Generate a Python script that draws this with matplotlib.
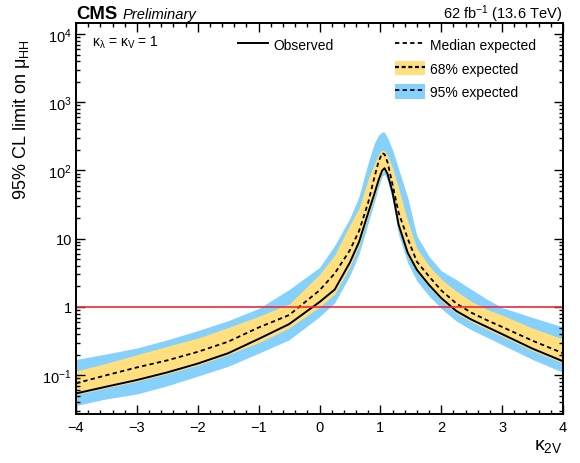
import matplotlib
matplotlib.use("Agg")
import matplotlib.pyplot as plt
from matplotlib.lines import Line2D
from matplotlib.patches import Patch
from matplotlib.ticker import FixedLocator, FixedFormatter, MultipleLocator, NullFormatter
import numpy as np

plt.rcParams['font.family'] = ['Liberation Sans', 'DejaVu Sans']
plt.rcParams['mathtext.fontset'] = 'custom'
plt.rcParams['mathtext.rm'] = 'Liberation Sans'
plt.rcParams['mathtext.it'] = 'Liberation Sans:italic'
plt.rcParams['mathtext.bf'] = 'Liberation Sans:bold'

# kappa_2V scan points
k2v = [-4, -3.5, -3, -2.5, -2, -1.5, -1, -0.5, 0, 0.25, 0.5, 0.65, 0.8, 0.9, 0.97,
       1.03, 1.07, 1.12, 1.2, 1.3, 1.45, 1.6, 1.8, 2.0, 2.25, 2.5, 2.75, 3.0, 3.5, 4.0]

observed = [0.054, 0.068, 0.085, 0.11, 0.148, 0.21, 0.34, 0.56, 1.18, 1.8, 4.5, 9.0, 24, 45, 72,
            100, 108, 88, 48, 16, 6.2, 3.5, 2.1, 1.35, 0.87, 0.65, 0.51, 0.40, 0.245, 0.16]

median = [0.076, 0.10, 0.13, 0.165, 0.22, 0.31, 0.5, 0.76, 1.75, 3.1, 6.8, 13, 34, 78, 135,
          180, 172, 130, 62, 24, 10, 4.6, 2.8, 1.75, 1.12, 0.82, 0.64, 0.51, 0.32, 0.21]

up68 = [0.115, 0.15, 0.2, 0.265, 0.35, 0.5, 0.73, 1.1, 3.0, 5.8, 16, 28, 75, 125, 175,
        200, 195, 165, 110, 55, 18, 7.2, 4.0, 2.55, 1.7, 1.2, 0.92, 0.76, 0.49, 0.34]

down68 = [0.052, 0.065, 0.081, 0.105, 0.14, 0.2, 0.3, 0.49, 1.0, 1.55, 3.9, 8.2, 22, 41, 66,
          92, 100, 80, 44, 14.5, 5.7, 3.25, 1.95, 1.25, 0.81, 0.6, 0.47, 0.37, 0.228, 0.15]

up95 = [0.17, 0.205, 0.25, 0.33, 0.45, 0.63, 0.95, 1.8, 3.8, 8, 20, 42, 130, 250, 330,
        370, 360, 300, 200, 105, 40, 11, 5.5, 3.4, 2.5, 1.8, 1.3, 0.98, 0.7, 0.51]

down95 = [0.036, 0.045, 0.053, 0.07, 0.097, 0.135, 0.21, 0.33, 0.72, 1.15, 2.9, 6, 17, 34, 57,
          82, 88, 70, 36, 11.5, 4.4, 2.4, 1.45, 0.95, 0.62, 0.46, 0.36, 0.28, 0.17, 0.11]

ytick_vals = [0.1, 1, 10, 100, 1000, 10000]
ytick_labels = [r'$10^{-1}$', '1', '10', r'$10^{2}$', r'$10^{3}$', r'$10^{4}$']

yellow = '#ffdf7f'
blue = '#85d1fb'

fig = plt.figure(figsize=(5.8, 4.64), dpi=100)
ax = fig.add_axes([76 / 580, 49 / 464, 487 / 580, 391 / 464])

ax.fill_between(k2v, down95, up95, color=blue, lw=0)
ax.fill_between(k2v, down68, up68, color=yellow, lw=0)
ax.plot(k2v, median, color='black', lw=1.3, ls=(0, (2.4, 1.8)))
ax.plot(k2v, observed, color='black', lw=1.4)
ax.axhline(1, color='#ee2a3a', lw=1.2)

ax.set_yscale('log')
ax.set_xlim(-4, 4)
ax.set_ylim(0.027, 14500)

ax.yaxis.set_major_locator(FixedLocator(ytick_vals))
ax.yaxis.set_major_formatter(FixedFormatter(ytick_labels))
minors = [m * 10.0 ** e for e in range(-2, 5) for m in range(2, 10)]
ax.yaxis.set_minor_locator(FixedLocator(minors))
ax.yaxis.set_minor_formatter(NullFormatter())
ax.xaxis.set_major_locator(MultipleLocator(1))
ax.xaxis.set_minor_locator(MultipleLocator(0.2))

ax.tick_params(which='both', direction='in', top=True, right=True, labelsize=10.5)
ax.tick_params(which='major', length=6.5, width=1.0)
ax.tick_params(which='minor', length=3.2, width=1.0)
ax.tick_params(axis='x', pad=4)
ax.tick_params(axis='y', pad=3)
for s in ax.spines.values():
    s.set_linewidth(1.4)

ax.set_ylabel(r'95% CL limit on μ$_{\mathrm{HH}}$', fontsize=13, loc='top')
ax.yaxis.set_label_coords(-0.09, 0.96)
ax.set_xlabel(r'κ$_{\mathrm{2V}}$', fontsize=14, loc='right')
ax.xaxis.set_label_coords(1.0, -0.06)

fig.text(76 / 580, 1 - 19 / 464, 'CMS', fontsize=13.3, fontweight='bold', va='baseline')
fig.text(123 / 580, 1 - 19 / 464, 'Preliminary', fontsize=10.6, style='italic', va='baseline')
fig.text(562 / 580, 1 - 19 / 464, r'62 fb$^{-1}$ (13.6 TeV)', fontsize=10.5, ha='right', va='baseline')
ax.text(0.033, 0.952, r'κ$_{\mathrm{λ}}$ = κ$_{\mathrm{V}}$ = 1', transform=ax.transAxes,
        fontsize=10, va='center')

obs_handle = Line2D([], [], color='black', lw=1.4)
med_handle = Line2D([], [], color='black', lw=1.3, ls=(0, (2.4, 1.8)))
h68 = (Patch(color=yellow, lw=0), Line2D([], [], color='black', lw=1.6, ls=(0, (1.8, 1.2))))
h95 = (Patch(color=blue, lw=0), Line2D([], [], color='black', lw=1.3, ls=(0, (2.4, 1.8))))

leg1 = ax.legend([obs_handle], ['Observed'], loc='upper left', bbox_to_anchor=(0.333, 0.963),
                 frameon=False, fontsize=10, borderpad=0, borderaxespad=0,
                 handlelength=2.15, handleheight=1.2, handletextpad=0.35)
ax.add_artist(leg1)
ax.legend([med_handle, h68, h95], ['Median expected', '68% expected', '95% expected'],
          loc='upper left', bbox_to_anchor=(0.655, 0.963), frameon=False, fontsize=10,
          borderpad=0, borderaxespad=0, handlelength=2.15, handleheight=1.2,
          handletextpad=0.35, labelspacing=0.62)

fig.savefig('out.png', dpi=100)
